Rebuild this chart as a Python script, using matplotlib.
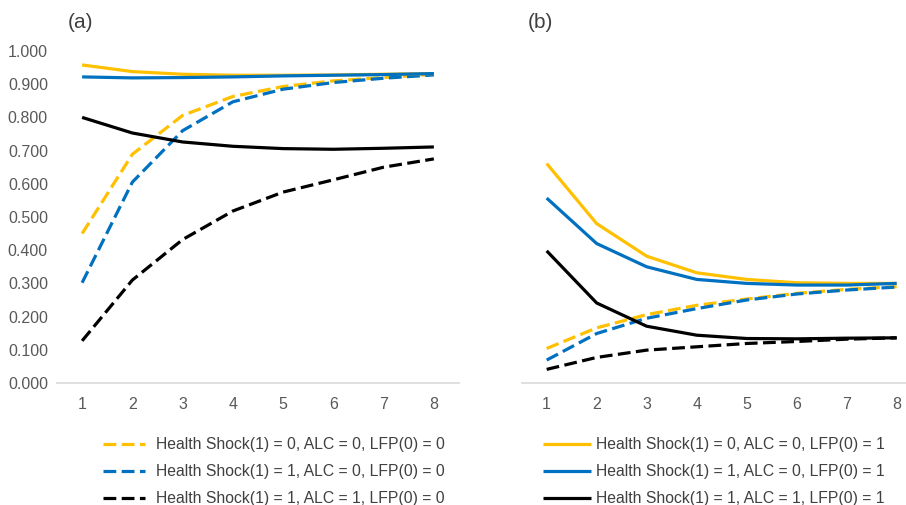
import matplotlib
matplotlib.use('Agg')
import matplotlib.pyplot as plt
from matplotlib.ticker import FuncFormatter

periods = [1, 2, 3, 4, 5, 6, 7, 8]

labels_lfp0 = ['Health Shock(1) = 0, ALC = 0, LFP(0) = 0',
               'Health Shock(1) = 1, ALC = 0, LFP(0) = 0',
               'Health Shock(1) = 1, ALC = 1, LFP(0) = 0']
labels_lfp1 = ['Health Shock(1) = 0, ALC = 0, LFP(0) = 1',
               'Health Shock(1) = 1, ALC = 0, LFP(0) = 1',
               'Health Shock(1) = 1, ALC = 1, LFP(0) = 1']

# panel (a)
a_dash_hs0_alc0 = [0.450, 0.689, 0.806, 0.863, 0.893, 0.910, 0.920, 0.930]
a_dash_hs1_alc0 = [0.302, 0.605, 0.760, 0.847, 0.885, 0.905, 0.918, 0.928]
a_dash_hs1_alc1 = [0.127, 0.310, 0.432, 0.518, 0.575, 0.612, 0.650, 0.675]
a_solid_hs0_alc0 = [0.958, 0.938, 0.930, 0.927, 0.927, 0.928, 0.930, 0.932]
a_solid_hs1_alc0 = [0.922, 0.919, 0.920, 0.922, 0.925, 0.927, 0.929, 0.932]
a_solid_hs1_alc1 = [0.800, 0.753, 0.726, 0.713, 0.706, 0.704, 0.707, 0.711]

# panel (b)
b_dash_hs0_alc0 = [0.104, 0.166, 0.206, 0.234, 0.253, 0.270, 0.282, 0.290]
b_dash_hs1_alc0 = [0.069, 0.149, 0.195, 0.224, 0.250, 0.268, 0.280, 0.289]
b_dash_hs1_alc1 = [0.041, 0.077, 0.099, 0.109, 0.119, 0.125, 0.132, 0.136]
b_solid_hs0_alc0 = [0.661, 0.480, 0.382, 0.332, 0.312, 0.302, 0.300, 0.300]
b_solid_hs1_alc0 = [0.557, 0.420, 0.350, 0.312, 0.300, 0.295, 0.295, 0.300]
b_solid_hs1_alc1 = [0.398, 0.241, 0.171, 0.144, 0.134, 0.133, 0.135, 0.136]

colors = ['#FFC000', '#0070C0', '#000000']
tick_color = '#595959'
text_color = '#404040'
lw = 2.3
dash = (4, 1.7)

plt.rcParams['font.family'] = ['Liberation Sans', 'DejaVu Sans']

fig = plt.figure(figsize=(9.06, 5.05), dpi=100)
ax_a = fig.add_axes([0.0629, 0.2416, 0.4437, 0.6574])
ax_b = fig.add_axes([0.5758, 0.2416, 0.4415, 0.6574])

panels = [
    (ax_a, [a_dash_hs0_alc0, a_dash_hs1_alc0, a_dash_hs1_alc1],
           [a_solid_hs0_alc0, a_solid_hs1_alc0, a_solid_hs1_alc1]),
    (ax_b, [b_dash_hs0_alc0, b_dash_hs1_alc0, b_dash_hs1_alc1],
           [b_solid_hs0_alc0, b_solid_hs1_alc0, b_solid_hs1_alc1]),
]

dash_handles = []
solid_handles = []
for ax, dashed, solid in panels:
    dh = []
    sh = []
    for vals, c in zip(dashed, colors):
        ln, = ax.plot(periods, vals, color=c, lw=lw, linestyle=(0, dash),
                      solid_capstyle='butt', dash_capstyle='butt')
        dh.append(ln)
    for vals, c in zip(solid, colors):
        ln, = ax.plot(periods, vals, color=c, lw=lw, solid_capstyle='butt')
        sh.append(ln)
    dash_handles.append(dh)
    solid_handles.append(sh)

    ax.set_xlim(0.5, 8.5)
    ax.set_ylim(0, 1.0)
    ax.set_xticks(periods)
    ax.set_yticks([i / 10 for i in range(11)])
    for s in ['top', 'right', 'left']:
        ax.spines[s].set_visible(False)
    ax.spines['bottom'].set_color('#D9D9D9')
    ax.spines['bottom'].set_linewidth(1.2)
    ax.tick_params(length=0, colors=tick_color, labelsize=11.5)
    ax.tick_params(axis='x', pad=10)
    ax.tick_params(axis='y', pad=6.5)
    ax.patch.set_alpha(0)

ax_a.yaxis.set_major_formatter(FuncFormatter(lambda v, p: '%.3f' % v))
ax_b.set_yticklabels([])

fig.text(68 / 906, 1 - 22 / 505, '(a)', fontsize=15, color=text_color, va='center', ha='left')
fig.text(528 / 906, 1 - 22 / 505, '(b)', fontsize=15, color=text_color, va='center', ha='left')

leg_font = {'size': 11.3}
leg_a = fig.legend(dash_handles[0], labels_lfp0, loc='upper left',
                   bbox_to_anchor=(103 / 906, 1 - 437 / 505), frameon=False,
                   prop=leg_font, handlelength=2.68, handletextpad=0.7,
                   labelspacing=0.77, borderpad=0, borderaxespad=0)
leg_b = fig.legend(solid_handles[1], labels_lfp1, loc='upper left',
                   bbox_to_anchor=(543 / 906, 1 - 437 / 505), frameon=False,
                   prop=leg_font, handlelength=3.06, handletextpad=0.32,
                   labelspacing=0.77, borderpad=0, borderaxespad=0)
for leg in (leg_a, leg_b):
    for t in leg.get_texts():
        t.set_color(text_color)

plt.savefig('out.png', dpi=100)
plt.close()
